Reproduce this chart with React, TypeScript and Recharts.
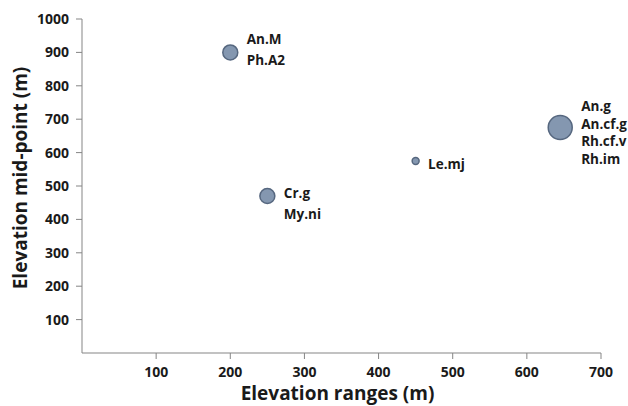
import { ScatterChart, Scatter, XAxis, YAxis, ZAxis, Label } from 'recharts';

// elevation range (x), elevation mid-point (y), number of taxa (bubble size)
const elevationRanges = [200, 250, 450, 645];
const elevationMidpoints = [900, 470, 575, 675];
const taxaCounts = [2, 2, 1, 4];
const taxaLabels = [
    ['An.M', 'Ph.A2'],
    ['Cr.g', 'My.ni'],
    ['Le.mj'],
    ['An.g', 'An.cf.g', 'Rh.cf.v', 'Rh.im'],
];

const xTicks = [100, 200, 300, 400, 500, 600, 700];
const yTicks = [100, 200, 300, 400, 500, 600, 700, 800, 900, 1000];

// label nudges (px), per bubble
const labelDy = [-3, 7, 3, 5];

const FONT = '"Open Sans", "DejaVu Sans", sans-serif';
const AXIS_COLOR = '#858585';
const TEXT_COLOR = '#1a1a1a';

const data = elevationRanges.map((x, i) => ({
    x,
    y: elevationMidpoints[i],
    z: taxaCounts[i],
    labels: taxaLabels[i],
    dy: labelDy[i],
}));

const Bubble = (props: any) => {
    const { cx, cy, size, payload } = props;
    const r = Math.sqrt(size / Math.PI);
    const lines: string[] = payload.labels;
    const gap = lines.length > 2 ? 17.5 : 21;
    const top = cy + payload.dy - ((lines.length - 1) * gap) / 2;
    return (
        <g>
            <circle cx={cx} cy={cy} r={r} fill="#8497b0" stroke="#56677f" strokeWidth={1.5} />
            {lines.map((t, i) => (
                <text
                    key={t}
                    x={cx + r + 9}
                    y={top + i * gap}
                    dominantBaseline="central"
                    fontFamily={FONT}
                    fontWeight={700}
                    fontSize={13.5}
                    fill={TEXT_COLOR}
                >
                    {t}
                </text>
            ))}
        </g>
    );
};

const tickStyle = { fontFamily: FONT, fontWeight: 700, fontSize: 14, fill: TEXT_COLOR };

export default function App() {
    return (
        <div style={{ position: 'fixed', left: 0, top: 0, background: '#fff' }}>
            <ScatterChart width={628} height={406} margin={{ top: 19, right: 27, left: 0, bottom: 0 }}>
                <XAxis
                    type="number"
                    dataKey="x"
                    domain={[0, 700]}
                    ticks={xTicks}
                    height={53}
                    tickSize={6}
                    tickMargin={8}
                    stroke={AXIS_COLOR}
                    tick={tickStyle}
                >
                    <Label
                        content={({ viewBox }: any) => (
                            <text
                                x={viewBox.x + viewBox.width / 2 - 4}
                                y={viewBox.y + 40}
                                textAnchor="middle"
                                dominantBaseline="central"
                                fontFamily={FONT}
                                fontWeight={700}
                                fontSize={19}
                                fill={TEXT_COLOR}
                            >
                                Elevation ranges (m)
                            </text>
                        )}
                    />
                </XAxis>
                <YAxis
                    type="number"
                    dataKey="y"
                    domain={[0, 1000]}
                    ticks={yTicks}
                    width={82}
                    tickSize={6}
                    tickMargin={7}
                    stroke={AXIS_COLOR}
                    tick={tickStyle}
                >
                    <Label
                        content={({ viewBox }: any) => (
                            <text
                                x={20}
                                y={viewBox.y + viewBox.height / 2 - 8}
                                transform={`rotate(-90, 20, ${viewBox.y + viewBox.height / 2 - 8})`}
                                textAnchor="middle"
                                dominantBaseline="central"
                                fontFamily={FONT}
                                fontWeight={700}
                                fontSize={19}
                                fill={TEXT_COLOR}
                            >
                                Elevation mid-point (m)
                            </text>
                        )}
                    />
                </YAxis>
                <ZAxis type="number" dataKey="z" domain={[1, 4]} range={[38, 452]} />
                <Scatter data={data} shape={Bubble} isAnimationActive={false} />
            </ScatterChart>
        </div>
    );
}
